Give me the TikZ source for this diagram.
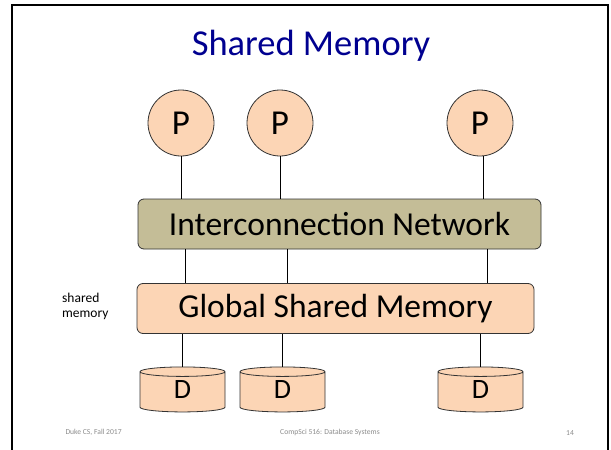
\documentclass[tikz,border=0pt]{standalone}
\usepackage{fontspec}
\setmainfont{Carlito}
\usetikzlibrary{shapes.geometric}
\definecolor{peach}{HTML}{FCD5B5}
\definecolor{khaki}{HTML}{C4BD97}
\definecolor{titleblue}{HTML}{000090}
\definecolor{footgrey}{HTML}{8C8C8C}
\tikzset{
  proc/.style={circle, draw=black!80, fill=peach, line width=0.8pt, minimum size=66pt, inner sep=0pt, font=\fontsize{35}{35}\selectfont},
  bar/.style={rounded corners=6pt, draw=black!80, line width=0.8pt, minimum height=50pt, inner sep=0pt},
  disk/.style={cylinder, shape border rotate=90, aspect=0.55, draw=black!80, fill=peach, line width=0.8pt, minimum width=85pt, minimum height=45pt, inner sep=0pt, font=\fontsize{28}{28}\selectfont},
  wire/.style={line width=0.9pt, black},
  foot/.style={text=footgrey, font=\fontsize{7.6}{8}\selectfont}
}
\newcommand{\disklabel}{\raisebox{-6pt}[0pt][0pt]{D}}
\begin{document}
\begin{tikzpicture}[x=1pt,y=-1pt]
\useasboundingbox (0,0) rectangle (611,450);
\fill[white] (0,0) rectangle (611,450);
\draw[line width=2pt] (12,460) -- (12,5) -- (608,5) -- (608,460);
\node[text=titleblue, font=\fontsize{36.5}{36.5}\selectfont] (title) at (311,46) {Shared Memory};
\node[proc] (p1) at (181,123) {P};
\node[proc] (p2) at (280,123) {P};
\node[proc] (p3) at (480,123) {P};
\node[bar, fill=khaki, minimum width=403pt, font=\fontsize{33.5}{33.5}\selectfont] (net) at (339.5,224) {Interconnection Network};
\node[bar, fill=peach, minimum width=397pt, font=\fontsize{33.5}{33.5}\selectfont] (mem) at (335.5,308.5) {Global Shared Memory};
\node[font=\fontsize{13.5}{15}\selectfont, align=left, anchor=west, inner sep=0pt] (lbl) at (62,306) {shared\\memory};
\node[disk] (d1) at (182.5,392) {\disklabel};
\node[disk] (d2) at (282.5,392) {\disklabel};
\node[disk] (d3) at (480.5,392) {\disklabel};
\draw[wire] (p1.south) -- (p1.south |- net.north);
\draw[wire] (p2.south) -- (p2.south |- net.north);
\draw[wire] ([xshift=3pt]p3.south) -- ([xshift=3pt]p3.south |- net.north);
\coordinate (n1) at (185,249);
\coordinate (n2) at (287,249);
\coordinate (n3) at (487,249);
\draw[wire] (n1 |- net.south) -- (n1 |- mem.north);
\draw[wire] (n2 |- net.south) -- (n2 |- mem.north);
\draw[wire] (n3 |- net.south) -- (n3 |- mem.north);
\draw[wire] (d1.north |- mem.south) -- (d1.north);
\draw[wire] (d2.north |- mem.south) -- (d2.north);
\draw[wire] (d3.north |- mem.south) -- (d3.north);
\node[foot, anchor=west] (f1) at (62,432) {Duke CS, Fall 2017};
\node[foot] (f2) at (330,432) {CompSci 516: Database Systems};
\node[foot] (f3) at (570,433) {14};
\end{tikzpicture}
\end{document}
